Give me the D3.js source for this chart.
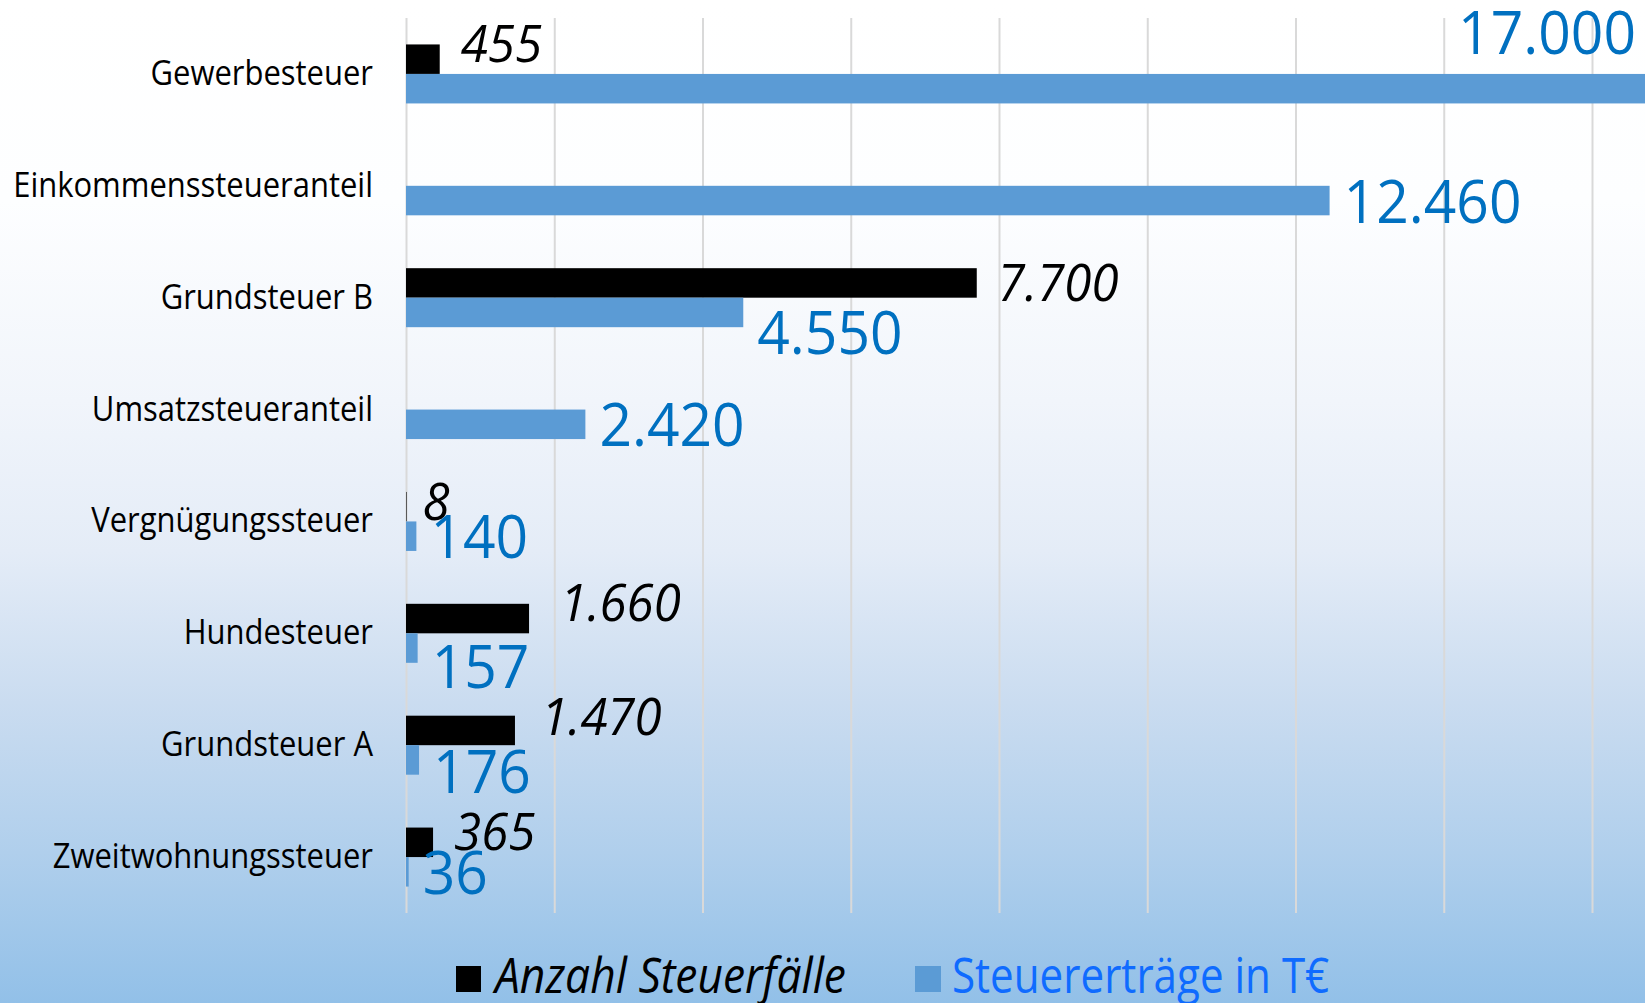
<!DOCTYPE html>
<html>
<head>
<meta charset="utf-8">
<script src="https://cdn.jsdelivr.net/npm/d3@7"></script>
<style>
  body { margin: 0; overflow: hidden; }
  text { font-family: "Open Sans", sans-serif; }
</style>
</head>
<body>
<div id="chart"></div>
<script>
// Data for the chart
const categories = ["Gewerbesteuer", "Einkommenssteueranteil", "Grundsteuer B", "Umsatzsteueranteil",
  "Vergnügungssteuer", "Hundesteuer", "Grundsteuer A", "Zweitwohnungssteuer"];
const anzahl = [455, null, 7700, null, 8, 1660, 1470, 365];
const ertraege = [17000, 12460, 4550, 2420, 140, 157, 176, 36];
const gridTicks = [0, 2000, 4000, 6000, 8000, 10000, 12000, 14000, 16000];
const seriesNames = ["Anzahl Steuerfälle", "Steuererträge in T€"];

// label nudges, as placed in the original
const anzahlNudge = [-16, 0, 0, 0, -5, -16, -14, -11];
const anzahlNudgeX = [0, 0, 0, 0, -5, 10, 5, 0];
const ertragNudge = [-57, 0, 20, 0, 0, 18, 11, 0];

const W = 1645, H = 1003;
const fmt = d3.formatLocale({ decimal: ",", thousands: ".", grouping: [3], currency: ["", "€"] }).format(",d");

const svg = d3.select("#chart").append("svg")
  .attr("width", W).attr("height", H);

// background gradient
const grad = svg.append("defs").append("linearGradient")
  .attr("id", "bg").attr("x1", 0).attr("y1", 0).attr("x2", 0).attr("y2", 1);
[[0, "#ffffff"], [0.2, "#fdfeff"], [0.4, "#f1f5fb"], [0.55, "#e4ecf7"],
 [0.7, "#cadcf0"], [0.85, "#b0cfec"], [1, "#92c0e8"]].forEach(s =>
  grad.append("stop").attr("offset", s[0]).attr("stop-color", s[1]));
svg.append("rect").attr("width", W).attr("height", H).attr("fill", "url(#bg)");

// scales
const x = d3.scaleLinear().domain([0, 16000]).range([406, 1592]);
const y = d3.scaleBand().domain(categories).range([18, 913]);
const barH = 29.5;
const yc = i => y(categories[i]) + y.bandwidth() / 2;

// gridlines
const grid = svg.append("g")
  .attr("transform", "translate(0,913)")
  .call(d3.axisBottom(x).tickValues(gridTicks).tickSize(-895).tickFormat(""));
grid.select(".domain").remove();
grid.selectAll("line").attr("stroke", "#d9d9d9").attr("stroke-width", 2);

// condensed text helper
function label(g, tx, ty, sx, txt) {
  return g.append("text")
    .attr("transform", `translate(${tx},${ty}) scale(${sx},1)`)
    .text(txt);
}

// category labels
const cat = svg.append("g").attr("font-size", 35).attr("fill", "#000").attr("text-anchor", "end");
categories.forEach((c, i) => label(cat, 373, yc(i) + 11, 0.885, c));

// bars: Anzahl (black, above) and Erträge (blue, below)
svg.selectAll(".bar-a")
  .data(anzahl.map((v, i) => ({ v, i })).filter(d => d.v != null))
  .enter().append("rect")
  .attr("x", x(0))
  .attr("y", d => yc(d.i) - barH)
  .attr("width", d => x(d.v) - x(0))
  .attr("height", barH)
  .attr("fill", "#000");

svg.selectAll(".bar-e")
  .data(ertraege.map((v, i) => ({ v, i })))
  .enter().append("rect")
  .attr("x", x(0))
  .attr("y", d => yc(d.i))
  .attr("width", d => x(d.v) - x(0))
  .attr("height", barH)
  .attr("fill", "#5b9bd5");

// value labels
const la = svg.append("g").attr("font-size", 51).attr("font-style", "italic").attr("fill", "#000");
anzahl.forEach((v, i) => {
  if (v == null) return;
  label(la, x(v) + 21 + anzahlNudgeX[i], yc(i) - barH / 2 + anzahlNudge[i] + 18.5, 0.965, fmt(v));
});

const le = svg.append("g").attr("font-size", 60).attr("fill", "#0070c0");
ertraege.forEach((v, i) => {
  const ty = yc(i) + barH / 2 + ertragNudge[i] + 22;
  if (x(v) + 14 > W) {
    label(le, W - 9, ty, 0.95, fmt(v)).attr("text-anchor", "end");
  } else {
    label(le, x(v) + 14, ty, 0.95, fmt(v));
  }
});

// legend
const lg = svg.append("g").attr("font-size", 49);
lg.append("rect").attr("x", 456).attr("y", 966).attr("width", 25).attr("height", 26).attr("fill", "#000");
label(lg, 495, 993, 0.905, seriesNames[0]).attr("font-style", "italic").attr("fill", "#000");
lg.append("rect").attr("x", 915).attr("y", 966).attr("width", 26).attr("height", 26).attr("fill", "#5b9bd5");
label(lg, 952, 993, 0.86, seriesNames[1]).attr("fill", "#0f6bff");
</script>
</body>
</html>
